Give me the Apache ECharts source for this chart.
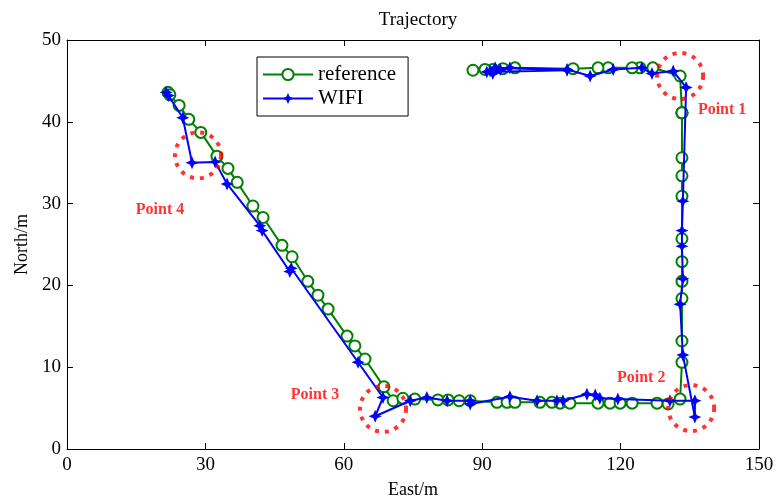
<!DOCTYPE html>
<html>
<head>
<meta charset="utf-8">
<title>Trajectory</title>
<script src="https://cdn.jsdelivr.net/npm/echarts@6/dist/echarts.min.js"></script>
<style>
  html, body { margin: 0; padding: 0; background: #fff; }
  #chart { width: 777px; height: 504px; }
</style>
</head>
<body>
<div id="chart"></div>
<script>
// reference track (green circles), [east, north]
var referenceX = [21.9, 22.3, 24.3, 26.4, 29.0, 32.5, 34.9, 36.9, 40.3, 42.5, 46.6, 48.8, 52.2, 54.4, 56.6, 60.7, 62.4, 64.6, 68.7,
  70.7, 72.8, 75.4, 80.4, 82.6, 85.0, 87.4, 93.2, 95.4, 97.1, 102.5, 105.1, 106.9, 109.0, 115.1, 117.7, 119.9, 122.5, 127.9, 130.3, 132.9,
  133.3, 133.3, 133.3, 133.3, 133.3, 133.3, 133.3, 133.3, 133.3, 133.3, 133.3, 133.3,
  132.9, 127.0, 124.2, 122.5, 117.3, 115.1, 109.7, 97.1, 94.5, 92.3, 90.6, 88.0];
var referenceY = [43.6, 43.3, 42.0, 40.3, 38.7, 35.8, 34.3, 32.6, 29.7, 28.3, 24.9, 23.5, 20.5, 18.8, 17.1, 13.8, 12.6, 11.0, 7.6,
  5.9, 6.2, 6.1, 6.0, 6.0, 5.9, 5.9, 5.7, 5.7, 5.7, 5.7, 5.7, 5.6, 5.6, 5.6, 5.6, 5.6, 5.6, 5.6, 5.5, 6.1,
  10.6, 13.2, 18.4, 20.5, 22.9, 25.7, 30.9, 33.4, 35.6, 41.1, 41.1, 41.1,
  45.6, 46.6, 46.6, 46.6, 46.6, 46.6, 46.5, 46.6, 46.5, 46.4, 46.4, 46.3];

// WIFI estimate (blue stars)
var wifiX = [21.5, 22.0, 25.1, 27.1, 32.1, 34.7, 41.8, 42.3, 48.3, 48.6, 63.1, 68.5, 66.8, 74.4, 78.0, 82.4, 87.4, 87.4,
  96.0, 101.9, 106.2, 107.5, 112.7, 114.5, 115.5, 119.4, 130.7, 136.1, 136.1, 133.5,
  132.9, 133.5, 133.3, 133.3, 133.5, 134.2, 131.4, 126.8, 124.6, 118.4, 113.4, 108.4,
  96.0, 92.3, 91.0, 108.4, 92.8, 93.9, 91.7];
var wifiY = [43.6, 43.2, 40.5, 35.0, 35.1, 32.4, 27.3, 26.7, 21.7, 22.1, 10.6, 6.3, 4.0, 5.9, 6.3, 5.9, 5.9, 5.5,
  6.4, 5.9, 5.9, 5.9, 6.7, 6.6, 6.2, 6.1, 5.9, 5.9, 3.9, 11.5,
  17.7, 20.8, 24.8, 26.7, 30.3, 44.2, 46.2, 45.9, 46.6, 46.4, 45.6, 46.4,
  46.6, 45.9, 46.1, 46.3, 46.6, 46.4, 46.2];

// highlighted turning points
var pointNames = ['Point 1', 'Point 2', 'Point 3', 'Point 4'];
var pointX = [132.9, 135.3, 68.5, 28.4];
var pointY = [45.6, 5.0, 4.9, 35.9];
var labelOffsets = [[42, 34], [-50, -30], [-68, -14], [-38, 55]];

var xTicks = [0, 30, 60, 90, 120, 150];
var yTicks = [0, 10, 20, 30, 40, 50];

function zip(xs, ys) {
  return xs.map(function (x, i) { return [x, ys[i]]; });
}

var serif = 'Liberation Serif, Times New Roman, serif';
var star = 'path://M0,-6L1.8,-1.8L6,0L1.8,1.8L0,6L-1.8,1.8L-6,0L-1.8,-1.8Z';

var chart = echarts.init(document.getElementById('chart'));

var axisBase = {
  type: 'value',
  axisLine: { show: true, onZero: false, lineStyle: { color: '#000', width: 1 } },
  axisTick: { show: true, inside: true, length: 6, lineStyle: { color: '#000' } },
  splitLine: { show: false }
};

var option = {
  animation: false,
  title: {
    text: 'Trajectory',
    left: 413,
    textAlign: 'center',
    top: 6,
    textStyle: { fontFamily: serif, fontSize: 19, fontWeight: 'normal', color: '#000' }
  },
  legend: {
    orient: 'vertical',
    left: 257,
    top: 57,
    itemWidth: 50,
    itemHeight: 14,
    itemGap: 3,
    padding: [7, 12, 7, 5],
    backgroundColor: '#fff',
    borderColor: '#000',
    borderWidth: 1,
    borderRadius: 0,
    data: ['reference', 'WIFI'],
    textStyle: { fontFamily: serif, fontSize: 21, color: '#000' }
  },
  grid: { left: 67, right: 18, top: 40, bottom: 52 },
  xAxis: [
    Object.assign({}, axisBase, {
      min: xTicks[0], max: xTicks[xTicks.length - 1], interval: 30,
      name: 'East/m', nameLocation: 'middle', nameGap: 32,
      nameTextStyle: { fontFamily: serif, fontSize: 18, color: '#000' },
      axisLabel: { fontFamily: serif, fontSize: 19, color: '#000', margin: 7 }
    }),
    Object.assign({}, axisBase, {
      position: 'top', min: xTicks[0], max: xTicks[xTicks.length - 1], interval: 30,
      axisLabel: { show: false }
    })
  ],
  yAxis: [
    Object.assign({}, axisBase, {
      min: yTicks[0], max: yTicks[yTicks.length - 1], interval: 10,
      name: 'North/m', nameLocation: 'middle', nameGap: 35,
      nameTextStyle: { fontFamily: serif, fontSize: 18, color: '#000' },
      axisLabel: { fontFamily: serif, fontSize: 19, color: '#000', margin: 6 }
    }),
    Object.assign({}, axisBase, {
      position: 'right', min: yTicks[0], max: yTicks[yTicks.length - 1], interval: 10,
      axisLabel: { show: false }
    })
  ],
  series: [
    {
      name: 'reference',
      type: 'line',
      data: zip(referenceX, referenceY),
      symbol: 'emptyCircle',
      symbolSize: 11,
      lineStyle: { color: '#008000', width: 2 },
      itemStyle: { color: '#008000', borderColor: '#008000', borderWidth: 2 },
      z: 3
    },
    {
      name: 'WIFI',
      type: 'line',
      data: zip(wifiX, wifiY),
      symbol: star,
      symbolSize: 13,
      showAllSymbol: true,
      lineStyle: { color: '#0000ff', width: 2 },
      itemStyle: { color: '#0000ff' },
      z: 4
    },
    {
      name: 'points',
      type: 'scatter',
      data: pointNames.map(function (n, i) {
        return {
          value: [pointX[i], pointY[i]],
          label: { show: true, formatter: n, position: 'inside', offset: labelOffsets[i] }
        };
      }),
      symbol: 'circle',
      symbolSize: 46,
      itemStyle: {
        color: 'rgba(0,0,0,0)',
        borderColor: '#ff0000',
        borderWidth: 4,
        borderType: [4, 6]
      },
      label: { fontFamily: serif, fontSize: 16, fontWeight: 'bold', color: '#ff0000' },
      z: 5,
      silent: true
    }
  ]
};

chart.setOption(option);
</script>
</body>
</html>
